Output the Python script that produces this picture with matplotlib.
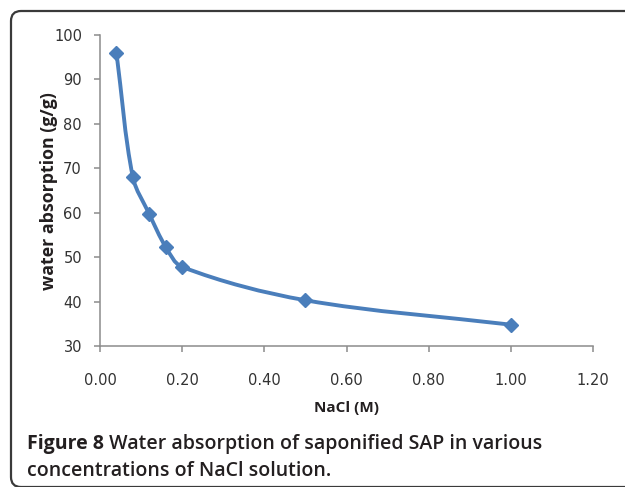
import numpy as np
import matplotlib
matplotlib.use("Agg")
import matplotlib.pyplot as plt
from matplotlib.path import Path
from matplotlib.patches import PathPatch
from matplotlib.transforms import Affine2D

# NaCl concentration (M) vs water absorption (g/g)
nacl = [0.04, 0.08, 0.12, 0.16, 0.20, 0.50, 1.00]
absorption = [96.0, 68.0, 59.7, 52.3, 47.8, 40.3, 34.8]

x_ticks = [0.0, 0.2, 0.4, 0.6, 0.8, 1.0, 1.2]
y_ticks = [30, 40, 50, 60, 70, 80, 90, 100]

caption_bold = "Figure 8"
caption_rest = " Water absorption of saponified SAP in various"
caption_line2 = "concentrations of NaCl solution."

W, H = 625, 487
LINE = "#4a7ebb"
AXIS = "#8c8c8c"
TXT = "#231f20"


def smooth_path(ax, xs, ys):
    # spreadsheet-style smoothed line: Bezier arms follow the neighbour
    # chord direction, scaled by the segment length (worked out in pixels)
    pts = ax.transData.transform(np.column_stack([xs, ys]))
    n = len(pts)

    def arm(a, b, seg):
        d = b - a
        L = np.hypot(*d)
        return d / L * seg / 3.0 if L > 0 else d * 0

    verts = [pts[0]]
    codes = [Path.MOVETO]
    for i in range(n - 1):
        p0 = pts[max(i - 1, 0)]
        p1 = pts[i]
        p2 = pts[i + 1]
        p3 = pts[min(i + 2, n - 1)]
        seg = np.hypot(*(p2 - p1))
        c1 = p1 + arm(p0, p2, seg)
        c2 = p2 - arm(p1, p3, seg)
        verts += [c1, c2, p2]
        codes += [Path.CURVE4] * 3
    verts = ax.transData.inverted().transform(np.array(verts))
    return Path(verts, codes)


fig = plt.figure(figsize=(W / 100, H / 100), dpi=100)
fig.patch.set_facecolor("white")

# frame: pixel coords measured from the top-left corner
px = Affine2D().scale(1 / W, -1 / H).translate(0, 1) + fig.transFigure
r, x0, y0, y1 = 10, 11, 11, 487
frame_verts = [(W + 10, y0), (x0 + r, y0), (x0, y0), (x0, y0 + r),
               (x0, y1 - r), (x0, y1), (x0 + r, y1), (W + 10, y1)]
frame_codes = [Path.MOVETO, Path.LINETO, Path.CURVE3, Path.CURVE3,
               Path.LINETO, Path.CURVE3, Path.CURVE3, Path.LINETO]
fig.patches.append(PathPatch(Path(frame_verts, frame_codes), facecolor="none",
                             edgecolor="#3a3a3a", linewidth=1.6,
                             transform=px, clip_on=False))

ax = fig.add_axes([100 / W, 1 - 346 / H, 493 / W, 311 / H])
ax.set_xlim(0, 1.2)
ax.set_ylim(30, 100)

curve = PathPatch(smooth_path(ax, nacl, absorption), facecolor="none",
                  edgecolor=LINE, linewidth=2.8, capstyle="round",
                  joinstyle="round", transform=ax.transData, zorder=2)
ax.add_patch(curve)
ax.plot(nacl, absorption, linestyle="none", marker="D", markersize=7,
        color=LINE, markeredgecolor=LINE, zorder=3)

for s in ["top", "right"]:
    ax.spines[s].set_visible(False)
for s in ["left", "bottom"]:
    ax.spines[s].set_color(AXIS)
    ax.spines[s].set_linewidth(1.1)

ax.set_xticks(x_ticks)
ax.set_xticklabels([f"{v:.2f}" for v in x_ticks])
ax.set_yticks(y_ticks)
ax.set_yticklabels([str(v) for v in y_ticks])
ax.tick_params(axis="both", direction="out", length=4.5, width=1.1,
               color=AXIS, labelsize=10.5, labelcolor="#333333")
ax.tick_params(axis="x", pad=15)
ax.tick_params(axis="y", pad=8.5)

fig.text(49 / W, 1 - 191 / H, "water absorption (g/g)", rotation=90,
         ha="center", va="center", fontsize=12.8, fontweight="bold",
         family="Open Sans", color=TXT)
fig.text(346 / W, 1 - 408 / H, "NaCl (M)", ha="center", va="center",
         fontsize=11, fontweight="bold", family="Open Sans", color=TXT)

# caption
t1 = fig.text(27 / W, 1 - 449 / H, caption_bold, ha="left", va="baseline",
              fontsize=14, fontweight="bold", family="Open Sans", color=TXT)
fig.canvas.draw()
bb = t1.get_window_extent()
fig.text(bb.x1 / W, 1 - 449 / H, caption_rest, ha="left", va="baseline",
         fontsize=14, fontweight="semibold", family="Open Sans", color=TXT)
fig.text(27 / W, 1 - 476 / H, caption_line2, ha="left", va="baseline",
         fontsize=14, fontweight="semibold", family="Open Sans", color=TXT)

fig.savefig("out.png", dpi=100)
